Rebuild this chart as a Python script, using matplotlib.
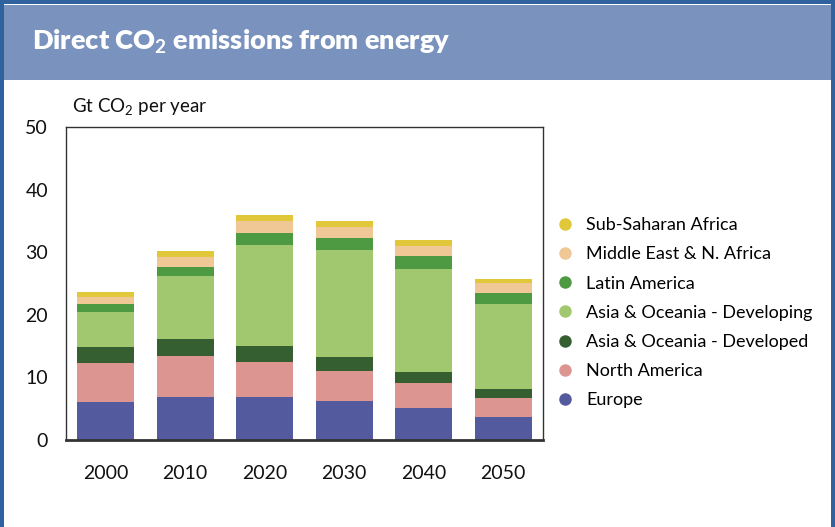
import numpy as np
import matplotlib.pyplot as plt
from matplotlib.patches import Rectangle
from matplotlib.lines import Line2D

plt.rcParams['font.family'] = ['Lato', 'DejaVu Sans']
plt.rcParams['mathtext.fontset'] = 'custom'
plt.rcParams['mathtext.rm'] = 'Lato'
plt.rcParams['mathtext.bf'] = 'Lato:bold'

# Data (Gt CO2 per year)
years = ['2000', '2010', '2020', '2030', '2040', '2050']
regions = ['Europe', 'North America', 'Asia & Oceania - Developed',
           'Asia & Oceania - Developing', 'Latin America',
           'Middle East & N. Africa', 'Sub-Saharan Africa']
europe = [6.1, 6.9, 6.9, 6.2, 5.1, 3.7]
north_america = [6.2, 6.5, 5.6, 4.8, 4.0, 3.0]
asia_developed = [2.6, 2.7, 2.5, 2.3, 1.8, 1.4]
asia_developing = [5.6, 10.1, 16.2, 17.1, 16.4, 13.6]
latin_america = [1.3, 1.4, 1.9, 1.9, 2.1, 1.8]
mena = [1.1, 1.6, 1.9, 1.7, 1.6, 1.6]
ssa = [0.7, 1.0, 0.9, 1.0, 0.9, 0.6]

series = [europe, north_america, asia_developed, asia_developing,
          latin_america, mena, ssa]
colors = ['#545A9E', '#DD9591', '#365F31', '#A1C86E', '#4E9A43',
          '#EFC896', '#E1C83A']

fig = plt.figure(figsize=(8.35, 5.27), dpi=100)
fig.patch.set_facecolor('#3162A0')

# white panel and header band (behind the axes)
W, H = 835, 527
fig.patches.append(Rectangle((4 / W, 0), (831 - 4) / W, 1 - 4 / H,
                             transform=fig.transFigure, facecolor='white',
                             edgecolor='none', zorder=-5))
fig.patches.append(Rectangle((4 / W, 1 - 80 / H), (831 - 4) / W, 75 / H,
                             transform=fig.transFigure, facecolor='#7A93BE',
                             edgecolor='none', zorder=-4))
fig.text(32 / W, 1 - 42 / H, r'Direct CO$_\mathbf{2}$ emissions from energy',
         color='white', fontsize=19.5, fontweight='heavy', va='center', ha='left')

ax = fig.add_axes([66 / W, 1 - 440 / H, (543 - 66) / W, (440 - 127) / H])
ax.set_zorder(1)
x = np.arange(len(years))
bottom = np.zeros(len(years))
for vals, col in zip(series, colors):
    ax.bar(x, vals, width=0.72, bottom=bottom, color=col, zorder=2)
    bottom += np.array(vals)

ax.set_xlim(-0.5, 5.5)
ax.set_ylim(0, 50)
ax.set_yticks([0, 10, 20, 30, 40, 50])
ax.set_xticks(x)
ax.set_xticklabels(years)
ax.tick_params(length=0, labelsize=14, colors='#111111')
ax.tick_params(axis='y', pad=13)
ax.tick_params(axis='x', pad=18)
for s in ['top', 'left', 'right']:
    ax.spines[s].set_color('#333333')
    ax.spines[s].set_linewidth(1.0)
ax.spines['bottom'].set_color('#333333')
ax.spines['bottom'].set_linewidth(2.0)

fig.text(72 / W, 1 - 107 / H, r'Gt CO$_2$ per year', fontsize=13.5,
         va='center', ha='left', color='#111111')

# legend, top entry is the top of the stack
handles = [Line2D([], [], marker='o', linestyle='none', markersize=9,
                  markerfacecolor=c, markeredgecolor='none') for c in colors]
fig.legend(handles[::-1], regions[::-1], loc='upper left',
           bbox_to_anchor=(549 / W, 1 - 210 / H), frameon=False,
           fontsize=13, handlelength=1.0, handletextpad=0.65,
           labelspacing=0.73, borderaxespad=0)

fig.savefig('out.png', dpi=100)
